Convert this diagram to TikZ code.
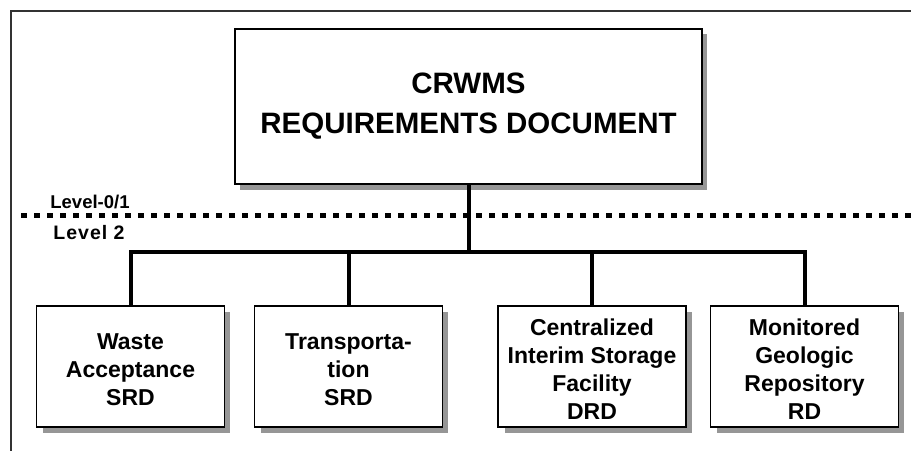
\documentclass[tikz,border=0pt]{standalone}
\usepackage{fontspec}
\setmainfont{Liberation Sans}
\usetikzlibrary{calc}
\definecolor{shadowgray}{RGB}{150,150,150}
\definecolor{framegray}{RGB}{50,50,50}
\tikzset{
  docbox/.style={draw=black, line width=1.5pt, fill=white, inner sep=0pt},
  doctext/.style={align=center, inner sep=0pt,
    font=\fontsize{23}{28}\selectfont\bfseries},
  boxshadow/.style={fill=shadowgray, draw=none},
  conn/.style={draw=black, line width=4pt},
  levelline/.style={draw=black, line width=5pt, dash pattern=on 6pt off 7pt},
  leveltext/.style={font=\fontsize{18.5}{20}\selectfont\bfseries, anchor=center},
  frameline/.style={draw=framegray, line width=2pt}
}
\begin{document}
\begin{tikzpicture}[x=1pt, y=-1pt]
  \useasboundingbox (0,0) rectangle (911,451);
  % outer frame (top and left edges)
  \draw[frameline] (911,11) -- (11,11) -- (11,451);

  % top-level document
  \fill[boxshadow] (240,34) rectangle (707,190);
  \node[docbox, align=center, minimum width=467pt, minimum height=155pt,
        font=\fontsize{29.5}{40}\selectfont\bfseries] (main) at (468.5,106.5)
        {CRWMS\\REQUIREMENTS DOCUMENT};

  % level separator
  \draw[levelline] (21,215) -- (911,215);
  \node[leveltext] (lvl01) at (90,202) {Level-0/1};
  \node[leveltext, font=\fontsize{19.5}{20}\selectfont\bfseries] (lvl2) at (89,233)
        {\addfontfeatures{LetterSpace=5}Level 2};

  % level-2 documents
  \foreach \nm/\cx/\txt in {wa/130.5/{Waste\\Acceptance\\SRD},
                            tr/348.5/{Transporta-\\tion\\SRD},
                            cs/592/{Centralized\\Interim Storage\\Facility\\DRD},
                            rd/804.5/{Monitored\\Geologic\\Repository\\RD}}{
    \fill[boxshadow] (\cx-93.5+6,312) rectangle (\cx+93.5+6,433);
    \node[docbox, minimum width=188pt, minimum height=121pt] (\nm) at (\cx,366.5) {};
    \node[doctext] (\nm-text) at ($(\nm.center)+(0,3)$) {\txt};
  }

  % connectors
  \coordinate (bus) at (0,252);
  \draw[conn] (main.south) -- (main.south |- bus);
  \draw[conn, line cap=rect] (wa.north |- bus) -- (rd.north |- bus);
  \foreach \nm in {wa,tr,cs,rd}{
    \draw[conn] (\nm.north |- bus) -- (\nm.north);
  }
\end{tikzpicture}
\end{document}
